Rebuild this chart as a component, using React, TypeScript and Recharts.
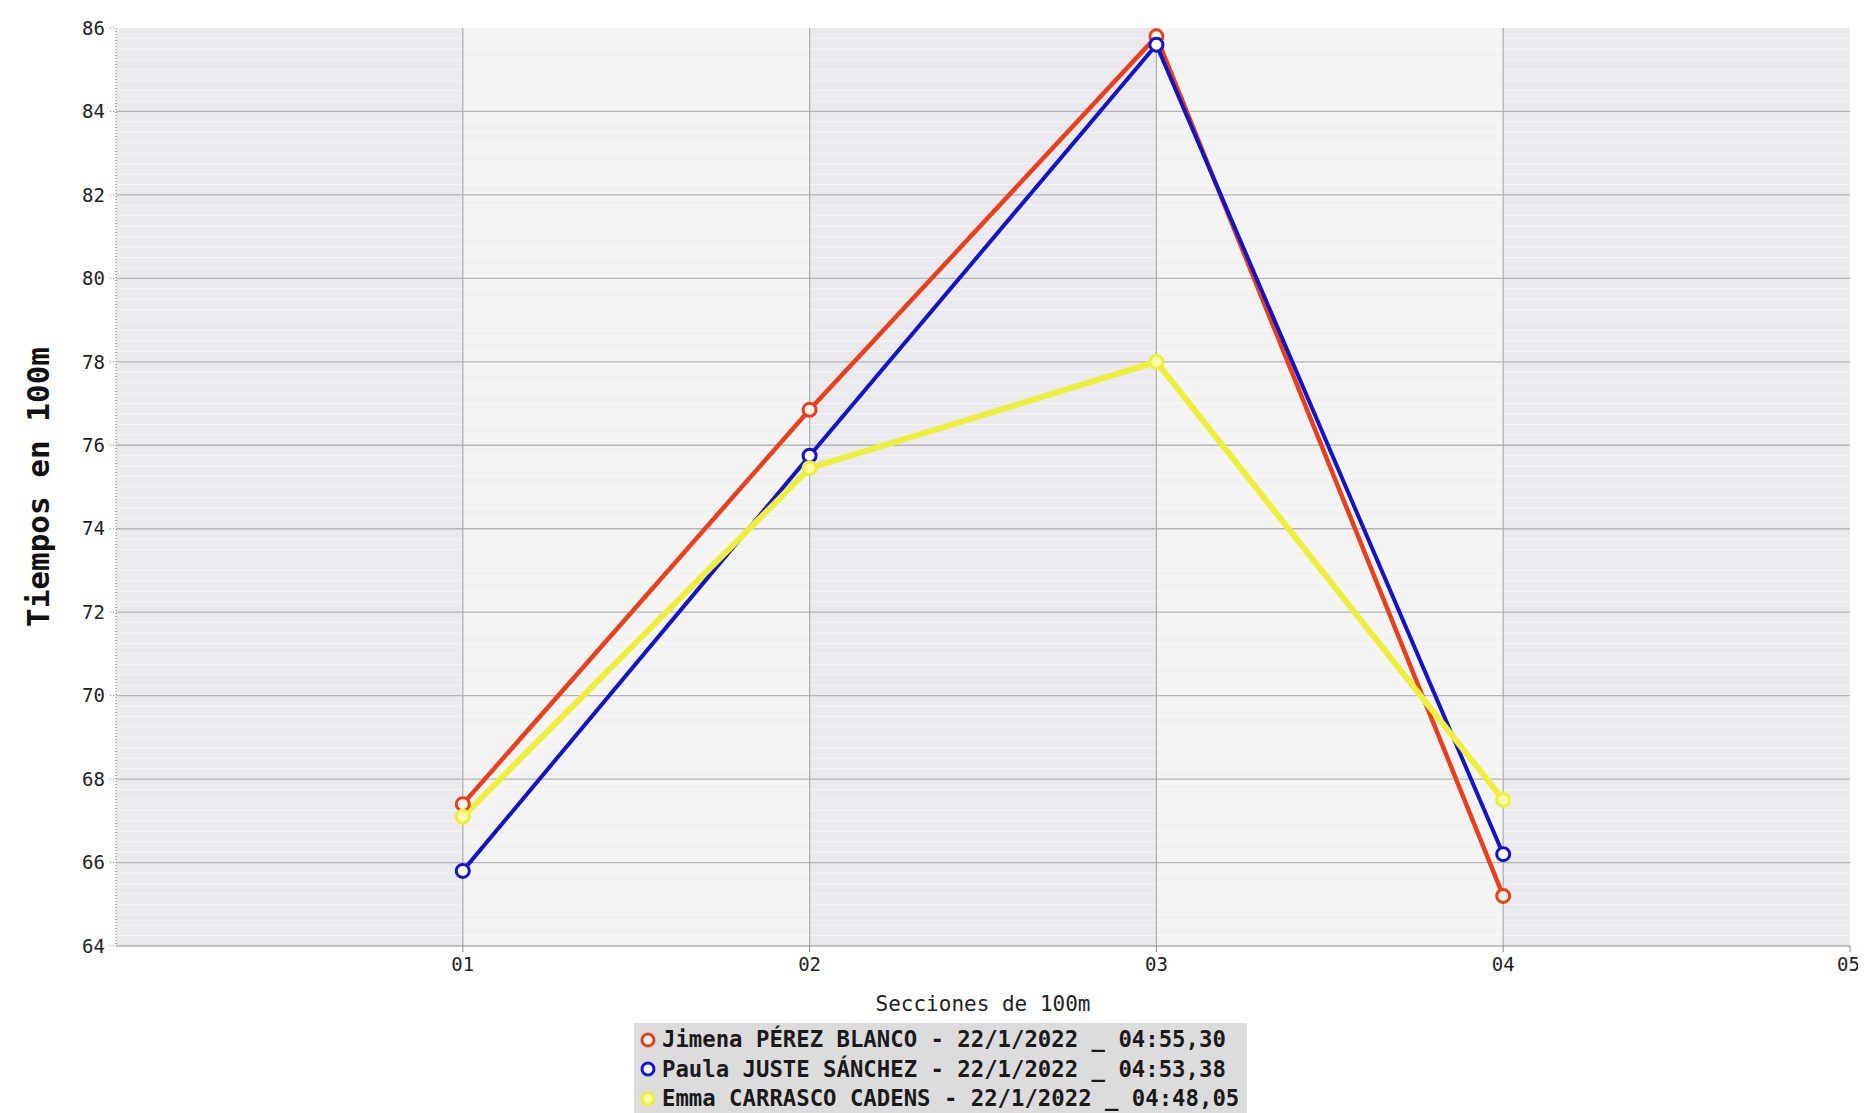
import {
  LineChart,
  Line,
  XAxis,
  YAxis,
  ReferenceArea,
  ReferenceLine,
  Legend,
} from 'recharts';

// secciones de 100m (eje X)
const secciones = [1, 2, 3, 4];
const xTicks = [1, 2, 3, 4, 5];
const xTickLabels = ['01', '02', '03', '04', '05'];

// tiempos por nadadora
const jimena = [67.4, 76.85, 85.8, 65.2];
const paula = [65.8, 75.75, 85.6, 66.2];
const emma = [67.1, 75.45, 78.0, 67.5];

const yTicks = [64, 66, 68, 70, 72, 74, 76, 78, 80, 82, 84, 86];

const nadadoras = [
  { key: 'jimena', name: 'Jimena PÉREZ BLANCO - 22/1/2022 _ 04:55,30', color: '#e8401c', dotFill: '#fff6ee', width: 4.5 },
  { key: 'paula', name: 'Paula JUSTE SÁNCHEZ - 22/1/2022 _ 04:53,38', color: '#1414c4', dotFill: '#ffffff', width: 4 },
  { key: 'emma', name: 'Emma CARRASCO CADENS - 22/1/2022 _ 04:48,05', color: '#eeee3c', dotFill: '#fafaa8', width: 6 },
];

// franjas de fondo alternas
const bands = [
  { x1: 0, x2: 1, fill: '#e9e9ee' },
  { x1: 1, x2: 2, fill: '#f3f3f3' },
  { x1: 2, x2: 3, fill: '#e9e9ee' },
  { x1: 3, x2: 4, fill: '#f3f3f3' },
  { x1: 4, x2: 5, fill: '#e9e9ee' },
];

const data = secciones.map((s, i) => ({
  seccion: s,
  jimena: jimena[i],
  paula: paula[i],
  emma: emma[i],
}));

// líneas finas de fondo cada 0,25
const minorLines: number[] = [];
for (let v = 64.25; v < 86; v += 0.25) {
  if (Math.abs(v - Math.round(v / 2) * 2) > 0.01) minorLines.push(v);
}
const majorY = yTicks.filter((v) => v > 64 && v < 86);
const majorX = [1, 2, 3, 4];

const mono = '"DejaVu Sans Mono", monospace';

function LegendBox() {
  return (
    <div
      style={{
        background: '#dcdcdc',
        padding: '2px 8px 2px 4px',
        fontFamily: mono,
        fontWeight: 'bold',
        fontSize: 22.3,
        color: '#1a1a1a',
        lineHeight: '29.5px',
        whiteSpace: 'nowrap',
      }}
    >
      {nadadoras.map((n) => (
        <div key={n.key} style={{ display: 'flex', alignItems: 'center' }}>
          <svg width={20} height={20} style={{ marginRight: 4 }}>
            <circle cx={10} cy={10} r={6} fill={n.dotFill} stroke={n.color} strokeWidth={3} />
          </svg>
          <span>{n.name}</span>
        </div>
      ))}
    </div>
  );
}

export default function App() {
  return (
    <div style={{ width: 1850, height: 1105, background: '#fff' }}>
      <style>{'html, body { overflow: hidden; } .recharts-surface { overflow: visible; }'}</style>
      <LineChart
        width={1850}
        height={1105}
        data={data}
        margin={{ top: 20, right: 8, bottom: 0, left: 0 }}
      >
        {bands.map((b) => (
          <ReferenceArea
            key={b.x1}
            x1={b.x1}
            x2={b.x2}
            y1={64}
            y2={86}
            fill={b.fill}
            fillOpacity={1}
            stroke="none"
            ifOverflow="hidden"
          />
        ))}
        {minorLines.map((v) => (
          <ReferenceLine key={v} y={v} stroke="#ffffff" strokeOpacity={0.5} strokeWidth={1} />
        ))}
        {majorY.map((v) => (
          <ReferenceLine key={'y' + v} y={v} stroke="#b4b4ba" strokeWidth={1.3} />
        ))}
        {majorX.map((v) => (
          <ReferenceLine key={'x' + v} x={v} stroke="#aaaab2" strokeWidth={1.2} />
        ))}
        <XAxis
          type="number"
          dataKey="seccion"
          domain={[0, 5]}
          ticks={xTicks}
          tickFormatter={(v: number) => xTickLabels[xTicks.indexOf(v)]}
          height={77}
          stroke="#888"
          tickSize={6}
          tickMargin={6}
          tick={{ fill: '#222', fontFamily: mono, fontSize: 19 }}
          label={{
            value: 'Secciones de 100m',
            position: 'insideBottom',
            offset: 12,
            style: { fill: '#222', fontFamily: mono, fontSize: 21 },
          }}
        />
        <YAxis
          type="number"
          domain={[64, 86]}
          ticks={yTicks}
          width={108}
          stroke="#777"
          strokeDasharray="1 2"
          tickSize={6}
          tickMargin={5}
          tick={{ fill: '#222', fontFamily: mono, fontSize: 19 }}
          label={{
            value: 'Tiempos en 100m',
            angle: -90,
            position: 'insideLeft',
            offset: 30,
            style: { textAnchor: 'middle', fill: '#111', fontFamily: mono, fontSize: 31, fontWeight: 'bold' },
          }}
        />
        <Legend
          verticalAlign="bottom"
          content={() => <LegendBox />}
          wrapperStyle={{ left: 626, bottom: 0, width: 'auto', height: 90 }}
        />
        {nadadoras.map((n) => (
          <Line
            key={n.key}
            type="linear"
            dataKey={n.key}
            name={n.name}
            stroke={n.color}
            strokeWidth={n.width}
            dot={{ r: 6.5, stroke: n.color, strokeWidth: 3, fill: n.dotFill, fillOpacity: 1 }}
            activeDot={false}
            isAnimationActive={false}
          />
        ))}
      </LineChart>
    </div>
  );
}
